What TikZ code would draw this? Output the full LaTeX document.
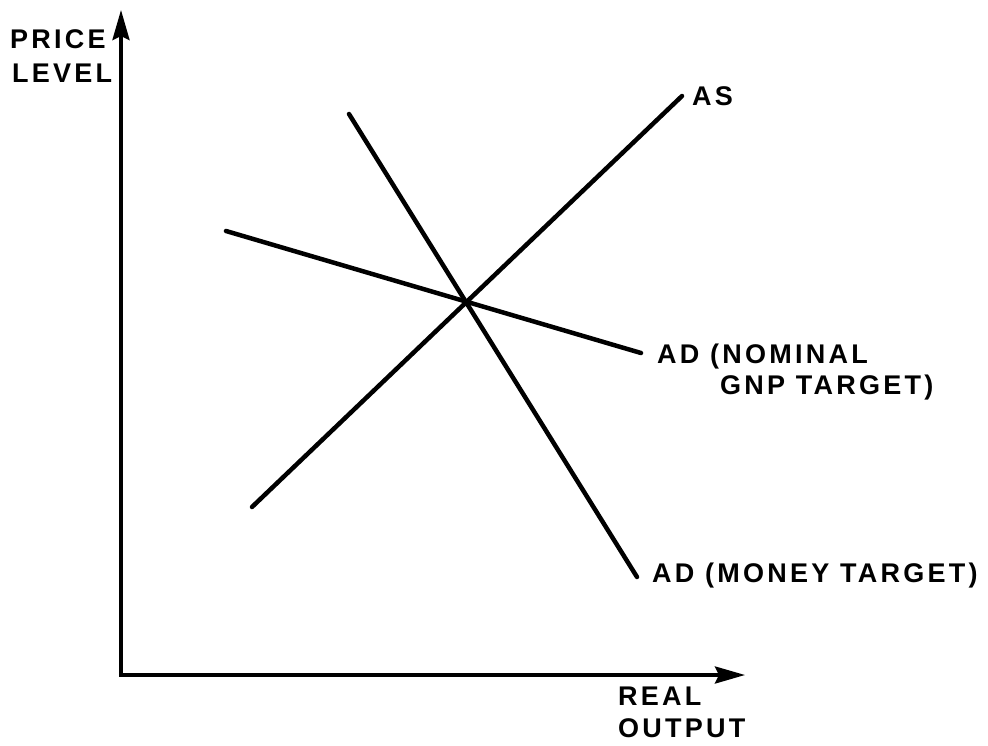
\documentclass[tikz,border=0pt]{standalone}
\usepackage{fontspec}
\setmainfont{Liberation Sans}[LetterSpace=12]
\usetikzlibrary{arrows.meta,positioning}

\begin{document}
\begin{tikzpicture}[x=1pt,y=-1pt,
    every node/.style={font=\fontsize{27}{32}\selectfont\bfseries,inner sep=0pt,anchor=base west},
    axis/.style={line width=3.5pt,line cap=rect,-{Stealth[length=30pt,width=17pt,inset=4pt]}},
    curve/.style={line width=4.5pt,line cap=round}]
  \useasboundingbox (0,0) rectangle (988,745);
  % axes
  \coordinate (o) at (121,675);
  \coordinate (ytop) at (121,10);
  \coordinate (xend) at (745,675);
  \draw[axis] (o) -- (ytop);
  \draw[axis] (o) -- (xend);
  \node (price) at (10,48) {PRICE};
  \node (level) at (12,82) {LEVEL};
  \node (real) at (618,705) {REAL};
  \node (output) at (618,737) {OUTPUT};
  % curves
  \coordinate (as1) at (252,507);
  \coordinate (as2) at (682,96);
  \coordinate (m1) at (349,114);
  \coordinate (m2) at (637,577);
  \coordinate (n1) at (226,231);
  \coordinate (n2) at (641,353);
  \draw[curve] (as1) -- (as2);
  \draw[curve] (m1) -- (m2);
  \draw[curve] (n1) -- (n2);
  \node (aslab) at (692,105) {AS};
  \node (nomlab) at (657,363) {AD (NOMINAL};
  \node (gnplab) at (720,394) {GNP TARGET)};
  \node (monlab) at (652,582) {AD (MONEY TARGET)};
\end{tikzpicture}
\end{document}
